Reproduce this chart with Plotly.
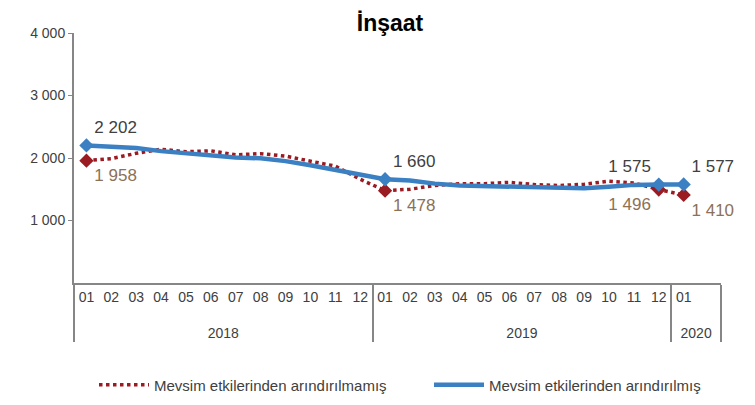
import plotly.graph_objects as go

# kategoriler (son kategori boş: 2020 grubunun genişliği için)
years = ["2018"] * 12 + ["2019"] * 12 + ["2020"] * 2
months = ["01", "02", "03", "04", "05", "06", "07", "08", "09", "10", "11", "12",
          "01", "02", "03", "04", "05", "06", "07", "08", "09", "10", "11", "12",
          "01", " "]

# Mevsim etkilerinden arındırılmamış
ham = [1958, 1990, 2075, 2140, 2100, 2115, 2050, 2070, 2030, 1945, 1870, 1660,
       1478, 1500, 1560, 1590, 1590, 1610, 1575, 1560, 1580, 1630, 1600, 1496,
       1410, None]

# Mevsim etkilerinden arındırılmış
arindirilmis = [2202, 2185, 2160, 2110, 2075, 2045, 2010, 1995, 1950, 1885, 1815, 1730,
                1660, 1640, 1590, 1560, 1550, 1545, 1535, 1520, 1515, 1540, 1570, 1575,
                1577, None]

y_ticks = [1000, 2000, 3000, 4000]

# etiketli noktalar
etiket_idx = [0, 12, 23, 24]
ham_pos = ["bottom right", "bottom right", "bottom left", "bottom right"]
ari_pos = ["top right", "top right", "top left", "top right"]

font = "Liberation Sans, Arial, sans-serif"
kirmizi = "#9b1b22"
mavi = "#3a80c3"
W, H = 755, 405
off = 8  # sayfa gövdesinin kenar boşluğu


def fmt(v):
    return f"{v:,}".replace(",", " ")


# yıl etiketini bir satır aşağı itmek için
yil_etiket = ["<br>" + y for y in years]

fig = go.Figure()

# çizgiler
fig.add_trace(go.Scatter(x=[yil_etiket, months], y=ham, mode="lines",
                         name="Mevsim etkilerinden arındırılmamış", legend="legend",
                         line=dict(color=kirmizi, width=3.5, dash="dot")))
fig.add_trace(go.Scatter(x=[yil_etiket, months], y=arindirilmis, mode="lines",
                         name="Mevsim etkilerinden arındırılmış", legend="legend2",
                         line=dict(color=mavi, width=4.5)))

# etiketler
fig.add_trace(go.Scatter(
    x=[[yil_etiket[i] for i in etiket_idx], [months[i] for i in etiket_idx]],
    y=[ham[i] for i in etiket_idx], mode="markers+text", cliponaxis=False,
    text=[fmt(ham[i]) for i in etiket_idx], textposition=ham_pos,
    textfont=dict(size=17, color="#8d7156", family=font),
    marker=dict(symbol="diamond", size=11, color=kirmizi), showlegend=False))
fig.add_trace(go.Scatter(
    x=[[yil_etiket[i] for i in etiket_idx], [months[i] for i in etiket_idx]],
    y=[arindirilmis[i] for i in etiket_idx], mode="markers+text", cliponaxis=False,
    text=[fmt(arindirilmis[i]) for i in etiket_idx], textposition=ari_pos,
    textfont=dict(size=17, color="#404040", family=font),
    marker=dict(symbol="diamond", size=11, color=mavi), showlegend=False))

leg = dict(orientation="h", xref="container", yref="container", xanchor="left",
           y=1 - (385 - off) / H, yanchor="middle", itemwidth=50,
           font=dict(size=15, color="#404040", family=font))

fig.update_layout(
    template="none",
    width=W, height=H,
    margin=dict(l=74 - off, r=W - (721 - off), t=33 - off, b=H - (283 - off),
                autoexpand=False),
    paper_bgcolor="white", plot_bgcolor="white",
    separators=", ",
    font=dict(family=font, color="#404040"),
    title=dict(text="<b>İnşaat</b>", x=(390 - off) / W, xref="container", xanchor="center",
               y=1 - (23 - off) / H, yref="container", yanchor="middle",
               font=dict(size=23, color="black", family=font)),
    legend=dict(leg, x=(94 - off) / W),
    legend2=dict(leg, x=(429 - off) / W),
)

fig.update_xaxes(type="multicategory", range=[-0.5, 25.5],
                 showline=True, linecolor="#868686", linewidth=2,
                 showgrid=False, ticks="",
                 showdividers=True, dividercolor="#868686", dividerwidth=2,
                 tickfont=dict(size=14, color="#404040", family=font))
fig.update_yaxes(range=[0, 4000], tickvals=y_ticks, tickformat=",",
                 showline=True, linecolor="#868686", linewidth=2,
                 ticks="outside", ticklen=4, tickcolor="#868686",
                 showgrid=False, zeroline=False,
                 tickfont=dict(size=14, color="#404040", family=font))

fig.write_html("out.html")
